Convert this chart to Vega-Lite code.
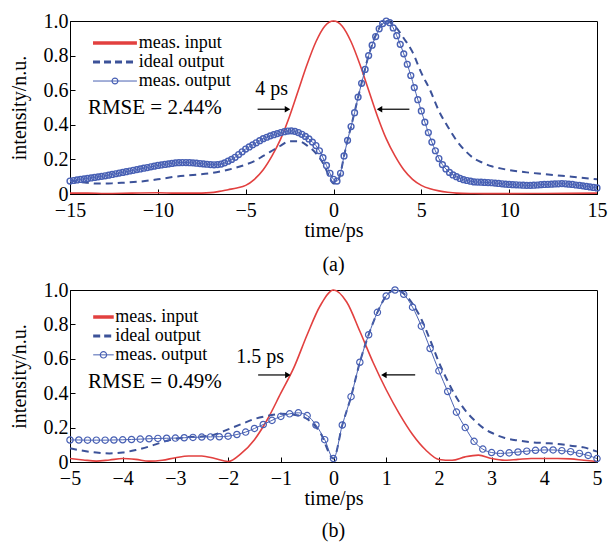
{
  "$schema": "https://vega.github.io/schema/vega-lite/v6.json",
  "padding": {"left": 8, "top": 10, "right": 8, "bottom": 4},
  "spacing": 3,
  "datasets": {
    "one": [{}],
    "a_in": [
      {"t": -15, "v": 0.005}, {"t": -14, "v": 0.005}, {"t": -13, "v": 0.003}, {"t": -12, "v": 0.004}, {"t": -11, "v": 0.006}, {"t": -10, "v": 0.007}, {"t": -9, "v": 0.005}, {"t": -8, "v": 0.005}, {"t": -7, "v": 0.008}, {"t": -6.5, "v": 0.015}, {"t": -6, "v": 0.025}, {"t": -5.5, "v": 0.035}, {"t": -5, "v": 0.05}, {"t": -4.5, "v": 0.085}, {"t": -4, "v": 0.14}, {"t": -3.5, "v": 0.22}, {"t": -3, "v": 0.32}, {"t": -2.5, "v": 0.45}, {"t": -2, "v": 0.6}, {"t": -1.5, "v": 0.75}, {"t": -1, "v": 0.88}, {"t": -0.5, "v": 0.97}, {"t": 0, "v": 1.0}, {"t": 0.5, "v": 0.97}, {"t": 1, "v": 0.88}, {"t": 1.5, "v": 0.75}, {"t": 2, "v": 0.6}, {"t": 2.5, "v": 0.45}, {"t": 3, "v": 0.32}, {"t": 3.5, "v": 0.22}, {"t": 4, "v": 0.14}, {"t": 4.5, "v": 0.085}, {"t": 5, "v": 0.05}, {"t": 5.5, "v": 0.03}, {"t": 6, "v": 0.018}, {"t": 6.5, "v": 0.01}, {"t": 7, "v": 0.005}, {"t": 8, "v": 0.003}, {"t": 9, "v": 0.002}, {"t": 10, "v": 0.002}, {"t": 12, "v": 0.003}, {"t": 15, "v": 0.005}
    ],
    "a_ideal": [
      {"t": -15, "v": 0.08}, {"t": -14.5, "v": 0.07}, {"t": -14, "v": 0.065}, {"t": -13.5, "v": 0.06}, {"t": -13, "v": 0.06}, {"t": -12.5, "v": 0.062}, {"t": -12, "v": 0.065}, {"t": -11, "v": 0.072}, {"t": -10, "v": 0.085}, {"t": -9, "v": 0.1}, {"t": -8, "v": 0.11}, {"t": -7, "v": 0.12}, {"t": -6, "v": 0.14}, {"t": -5, "v": 0.17}, {"t": -4.5, "v": 0.19}, {"t": -4, "v": 0.22}, {"t": -3.5, "v": 0.25}, {"t": -3, "v": 0.28}, {"t": -2.5, "v": 0.305}, {"t": -2, "v": 0.305}, {"t": -1.5, "v": 0.28}, {"t": -1, "v": 0.235}, {"t": -0.5, "v": 0.16}, {"t": -0.2, "v": 0.09}, {"t": 0, "v": 0.06}, {"t": 0.2, "v": 0.065}, {"t": 0.4, "v": 0.12}, {"t": 0.6, "v": 0.22}, {"t": 0.8, "v": 0.31}, {"t": 1, "v": 0.39}, {"t": 1.5, "v": 0.6}, {"t": 2, "v": 0.8}, {"t": 2.5, "v": 0.94}, {"t": 3, "v": 1.0}, {"t": 3.5, "v": 0.97}, {"t": 4, "v": 0.9}, {"t": 4.5, "v": 0.82}, {"t": 5, "v": 0.7}, {"t": 5.5, "v": 0.6}, {"t": 6, "v": 0.48}, {"t": 6.5, "v": 0.39}, {"t": 7, "v": 0.31}, {"t": 7.5, "v": 0.25}, {"t": 8, "v": 0.205}, {"t": 8.5, "v": 0.18}, {"t": 9, "v": 0.16}, {"t": 9.5, "v": 0.148}, {"t": 10, "v": 0.138}, {"t": 11, "v": 0.125}, {"t": 12, "v": 0.115}, {"t": 13, "v": 0.105}, {"t": 14, "v": 0.095}, {"t": 15, "v": 0.085}
    ],
    "a_out": [
      {"t": -15.0, "v": 0.075}, {"t": -14.8, "v": 0.078}, {"t": -14.6, "v": 0.081}, {"t": -14.4, "v": 0.084}, {"t": -14.2, "v": 0.087}, {"t": -14.0, "v": 0.09}, {"t": -13.8, "v": 0.093}, {"t": -13.6, "v": 0.096}, {"t": -13.4, "v": 0.099}, {"t": -13.2, "v": 0.102}, {"t": -13.0, "v": 0.105}, {"t": -12.8, "v": 0.109}, {"t": -12.6, "v": 0.113}, {"t": -12.4, "v": 0.117}, {"t": -12.2, "v": 0.121}, {"t": -12.0, "v": 0.125}, {"t": -11.8, "v": 0.129}, {"t": -11.6, "v": 0.133}, {"t": -11.4, "v": 0.137}, {"t": -11.2, "v": 0.141}, {"t": -11.0, "v": 0.145}, {"t": -10.8, "v": 0.149}, {"t": -10.6, "v": 0.153}, {"t": -10.4, "v": 0.157}, {"t": -10.2, "v": 0.161}, {"t": -10.0, "v": 0.165}, {"t": -9.8, "v": 0.168}, {"t": -9.6, "v": 0.171}, {"t": -9.4, "v": 0.174}, {"t": -9.2, "v": 0.177}, {"t": -9.0, "v": 0.18}, {"t": -8.8, "v": 0.181}, {"t": -8.6, "v": 0.182}, {"t": -8.4, "v": 0.182}, {"t": -8.2, "v": 0.181}, {"t": -8.0, "v": 0.18}, {"t": -7.8, "v": 0.178}, {"t": -7.6, "v": 0.176}, {"t": -7.4, "v": 0.174}, {"t": -7.2, "v": 0.172}, {"t": -7.0, "v": 0.17}, {"t": -6.8, "v": 0.169}, {"t": -6.6, "v": 0.17}, {"t": -6.4, "v": 0.173}, {"t": -6.2, "v": 0.18}, {"t": -6.0, "v": 0.19}, {"t": -5.8, "v": 0.2}, {"t": -5.6, "v": 0.212}, {"t": -5.4, "v": 0.228}, {"t": -5.2, "v": 0.244}, {"t": -5.0, "v": 0.26}, {"t": -4.8, "v": 0.272}, {"t": -4.6, "v": 0.284}, {"t": -4.4, "v": 0.296}, {"t": -4.2, "v": 0.308}, {"t": -4.0, "v": 0.32}, {"t": -3.8, "v": 0.328}, {"t": -3.6, "v": 0.336}, {"t": -3.4, "v": 0.343}, {"t": -3.2, "v": 0.349}, {"t": -3.0, "v": 0.355}, {"t": -2.8, "v": 0.36}, {"t": -2.6, "v": 0.364}, {"t": -2.4, "v": 0.365}, {"t": -2.2, "v": 0.362}, {"t": -2.0, "v": 0.355}, {"t": -1.8, "v": 0.345}, {"t": -1.6, "v": 0.333}, {"t": -1.4, "v": 0.318}, {"t": -1.2, "v": 0.3}, {"t": -1.0, "v": 0.28}, {"t": -0.8, "v": 0.25}, {"t": -0.6, "v": 0.21}, {"t": -0.4, "v": 0.165}, {"t": -0.2, "v": 0.12}, {"t": 0.0, "v": 0.085}, {"t": 0.2, "v": 0.075}, {"t": 0.4, "v": 0.12}, {"t": 0.6, "v": 0.22}, {"t": 0.8, "v": 0.31}, {"t": 1.0, "v": 0.39}, {"t": 1.2, "v": 0.47}, {"t": 1.4, "v": 0.56}, {"t": 1.6, "v": 0.64}, {"t": 1.8, "v": 0.72}, {"t": 2.0, "v": 0.8}, {"t": 2.2, "v": 0.86}, {"t": 2.4, "v": 0.91}, {"t": 2.6, "v": 0.955}, {"t": 2.8, "v": 0.985}, {"t": 3.0, "v": 1.0}, {"t": 3.2, "v": 0.99}, {"t": 3.4, "v": 0.96}, {"t": 3.6, "v": 0.915}, {"t": 3.8, "v": 0.865}, {"t": 4.0, "v": 0.81}, {"t": 4.2, "v": 0.75}, {"t": 4.4, "v": 0.685}, {"t": 4.6, "v": 0.615}, {"t": 4.8, "v": 0.545}, {"t": 5.0, "v": 0.48}, {"t": 5.2, "v": 0.415}, {"t": 5.4, "v": 0.355}, {"t": 5.6, "v": 0.3}, {"t": 5.8, "v": 0.25}, {"t": 6.0, "v": 0.205}, {"t": 6.2, "v": 0.17}, {"t": 6.4, "v": 0.145}, {"t": 6.6, "v": 0.125}, {"t": 6.8, "v": 0.11}, {"t": 7.0, "v": 0.1}, {"t": 7.2, "v": 0.09}, {"t": 7.4, "v": 0.083}, {"t": 7.6, "v": 0.078}, {"t": 7.8, "v": 0.074}, {"t": 8.0, "v": 0.07}, {"t": 8.2, "v": 0.069}, {"t": 8.4, "v": 0.068}, {"t": 8.6, "v": 0.067}, {"t": 8.8, "v": 0.066}, {"t": 9.0, "v": 0.065}, {"t": 9.2, "v": 0.063}, {"t": 9.4, "v": 0.061}, {"t": 9.6, "v": 0.059}, {"t": 9.8, "v": 0.057}, {"t": 10.0, "v": 0.055}, {"t": 10.2, "v": 0.054}, {"t": 10.4, "v": 0.053}, {"t": 10.6, "v": 0.052}, {"t": 10.8, "v": 0.051}, {"t": 11.0, "v": 0.05}, {"t": 11.2, "v": 0.05}, {"t": 11.4, "v": 0.051}, {"t": 11.6, "v": 0.052}, {"t": 11.8, "v": 0.054}, {"t": 12.0, "v": 0.055}, {"t": 12.2, "v": 0.056}, {"t": 12.4, "v": 0.057}, {"t": 12.6, "v": 0.058}, {"t": 12.8, "v": 0.059}, {"t": 13.0, "v": 0.06}, {"t": 13.2, "v": 0.059}, {"t": 13.4, "v": 0.057}, {"t": 13.6, "v": 0.055}, {"t": 13.8, "v": 0.052}, {"t": 14.0, "v": 0.05}, {"t": 14.2, "v": 0.047}, {"t": 14.4, "v": 0.044}, {"t": 14.6, "v": 0.041}, {"t": 14.8, "v": 0.038}, {"t": 15.0, "v": 0.035}
    ],
    "b_in": [
      {"t": -5, "v": 0.02}, {"t": -4.75, "v": 0.012}, {"t": -4.5, "v": 0.005}, {"t": -4.25, "v": 0.012}, {"t": -4, "v": 0.02}, {"t": -3.75, "v": 0.015}, {"t": -3.5, "v": 0.005}, {"t": -3.25, "v": 0.01}, {"t": -3, "v": 0.025}, {"t": -2.75, "v": 0.035}, {"t": -2.5, "v": 0.035}, {"t": -2.25, "v": 0.02}, {"t": -2, "v": 0.003}, {"t": -1.75, "v": 0.05}, {"t": -1.5, "v": 0.13}, {"t": -1.25, "v": 0.25}, {"t": -1, "v": 0.4}, {"t": -0.75, "v": 0.55}, {"t": -0.5, "v": 0.74}, {"t": -0.25, "v": 0.91}, {"t": 0, "v": 1.0}, {"t": 0.25, "v": 0.93}, {"t": 0.5, "v": 0.76}, {"t": 0.75, "v": 0.58}, {"t": 1, "v": 0.42}, {"t": 1.25, "v": 0.28}, {"t": 1.5, "v": 0.16}, {"t": 1.75, "v": 0.07}, {"t": 2, "v": 0.015}, {"t": 2.25, "v": 0.01}, {"t": 2.5, "v": 0.03}, {"t": 2.75, "v": 0.04}, {"t": 3, "v": 0.02}, {"t": 3.25, "v": 0.01}, {"t": 3.5, "v": 0.015}, {"t": 3.75, "v": 0.02}, {"t": 4, "v": 0.02}, {"t": 4.25, "v": 0.02}, {"t": 4.5, "v": 0.018}, {"t": 4.75, "v": 0.01}, {"t": 5, "v": 0.003}
    ],
    "b_ideal": [
      {"t": -5, "v": 0.08}, {"t": -4.75, "v": 0.065}, {"t": -4.5, "v": 0.055}, {"t": -4.25, "v": 0.05}, {"t": -4, "v": 0.055}, {"t": -3.75, "v": 0.07}, {"t": -3.5, "v": 0.09}, {"t": -3.25, "v": 0.115}, {"t": -3, "v": 0.135}, {"t": -2.75, "v": 0.145}, {"t": -2.5, "v": 0.148}, {"t": -2.25, "v": 0.16}, {"t": -2, "v": 0.19}, {"t": -1.75, "v": 0.22}, {"t": -1.5, "v": 0.25}, {"t": -1.25, "v": 0.268}, {"t": -1, "v": 0.28}, {"t": -0.75, "v": 0.275}, {"t": -0.5, "v": 0.25}, {"t": -0.25, "v": 0.17}, {"t": 0, "v": 0.02}, {"t": 0.167, "v": 0.215}, {"t": 0.333, "v": 0.38}, {"t": 0.5, "v": 0.58}, {"t": 0.667, "v": 0.74}, {"t": 0.833, "v": 0.87}, {"t": 1, "v": 0.965}, {"t": 1.167, "v": 1.0}, {"t": 1.333, "v": 0.98}, {"t": 1.5, "v": 0.92}, {"t": 1.667, "v": 0.83}, {"t": 1.833, "v": 0.71}, {"t": 2, "v": 0.58}, {"t": 2.167, "v": 0.47}, {"t": 2.333, "v": 0.375}, {"t": 2.5, "v": 0.3}, {"t": 2.667, "v": 0.245}, {"t": 2.833, "v": 0.2}, {"t": 3, "v": 0.17}, {"t": 3.25, "v": 0.14}, {"t": 3.5, "v": 0.125}, {"t": 3.75, "v": 0.115}, {"t": 4, "v": 0.11}, {"t": 4.25, "v": 0.105}, {"t": 4.5, "v": 0.095}, {"t": 4.75, "v": 0.085}, {"t": 5, "v": 0.06}
    ],
    "b_out": [
      {"t": -5, "v": 0.128}, {"t": -4.833, "v": 0.128}, {"t": -4.667, "v": 0.127}, {"t": -4.5, "v": 0.127}, {"t": -4.333, "v": 0.127}, {"t": -4.167, "v": 0.128}, {"t": -4, "v": 0.129}, {"t": -3.833, "v": 0.131}, {"t": -3.667, "v": 0.133}, {"t": -3.5, "v": 0.135}, {"t": -3.333, "v": 0.137}, {"t": -3.167, "v": 0.138}, {"t": -3, "v": 0.139}, {"t": -2.833, "v": 0.141}, {"t": -2.667, "v": 0.143}, {"t": -2.5, "v": 0.145}, {"t": -2.333, "v": 0.146}, {"t": -2.167, "v": 0.147}, {"t": -2, "v": 0.15}, {"t": -1.833, "v": 0.16}, {"t": -1.667, "v": 0.174}, {"t": -1.5, "v": 0.195}, {"t": -1.333, "v": 0.218}, {"t": -1.167, "v": 0.242}, {"t": -1, "v": 0.265}, {"t": -0.833, "v": 0.28}, {"t": -0.667, "v": 0.286}, {"t": -0.5, "v": 0.27}, {"t": -0.333, "v": 0.215}, {"t": -0.167, "v": 0.13}, {"t": 0, "v": 0.02}, {"t": 0.167, "v": 0.215}, {"t": 0.333, "v": 0.38}, {"t": 0.5, "v": 0.58}, {"t": 0.667, "v": 0.74}, {"t": 0.833, "v": 0.87}, {"t": 1, "v": 0.965}, {"t": 1.167, "v": 1.0}, {"t": 1.333, "v": 0.975}, {"t": 1.5, "v": 0.9}, {"t": 1.667, "v": 0.79}, {"t": 1.833, "v": 0.66}, {"t": 2, "v": 0.53}, {"t": 2.167, "v": 0.41}, {"t": 2.333, "v": 0.29}, {"t": 2.5, "v": 0.2}, {"t": 2.667, "v": 0.12}, {"t": 2.833, "v": 0.075}, {"t": 3, "v": 0.055}, {"t": 3.167, "v": 0.05}, {"t": 3.333, "v": 0.053}, {"t": 3.5, "v": 0.058}, {"t": 3.667, "v": 0.063}, {"t": 3.833, "v": 0.068}, {"t": 4, "v": 0.07}, {"t": 4.167, "v": 0.07}, {"t": 4.333, "v": 0.066}, {"t": 4.5, "v": 0.06}, {"t": 4.667, "v": 0.05}, {"t": 4.833, "v": 0.038}, {"t": 5, "v": 0.02}
    ]
  },
  "vconcat": [
    {
      "width": 527,
      "height": 173,
      "title": {"text": "(a)", "orient": "bottom", "offset": 15},
      "layer": [
        {
          "data": {"name": "a_in"},
          "mark": {"type": "line", "color": "#e2403f", "strokeWidth": 1.6, "interpolate": "monotone"},
          "encoding": {
            "x": {"field": "t", "type": "quantitative", "scale": {"domain": [-15, 15], "nice": false, "zero": false}, "axis": {"title": "time/ps", "values": [-15, -10, -5, 0, 5, 10, 15], "labelFlush": false, "labelOverlap": false}},
            "y": {"field": "v", "type": "quantitative", "scale": {"domain": [0, 1], "nice": false}, "axis": {"title": "intensity/n.u.", "values": [0, 0.2, 0.4, 0.6, 0.8, 1.0], "tickCount": 6, "labelFlush": false, "labelOverlap": false, "labelExpr": "datum.value == 0 ? '0' : format(datum.value, '.1f')"}}
          }
        },
        {
          "data": {"name": "a_ideal"},
          "mark": {"type": "line", "color": "#3c5299", "strokeWidth": 2, "strokeDash": [7, 5], "interpolate": "monotone"},
          "encoding": {
            "x": {"field": "t", "type": "quantitative", "scale": {"domain": [-15, 15]}},
            "y": {"field": "v", "type": "quantitative", "scale": {"domain": [0, 1]}}
          }
        },
        {
          "data": {"name": "a_out"},
          "mark": {"type": "line", "color": "#4a62b2", "strokeWidth": 1, "interpolate": "monotone"},
          "encoding": {
            "x": {"field": "t", "type": "quantitative", "scale": {"domain": [-15, 15]}},
            "y": {"field": "v", "type": "quantitative", "scale": {"domain": [0, 1]}}
          }
        },
        {
          "data": {"name": "a_out"},
          "mark": {"type": "point", "filled": false, "color": "#4860b4", "size": 34, "strokeWidth": 1.4, "opacity": 1},
          "encoding": {
            "x": {"field": "t", "type": "quantitative", "scale": {"domain": [-15, 15]}},
            "y": {"field": "v", "type": "quantitative", "scale": {"domain": [0, 1]}}
          }
        },
        {
          "data": {"name": "one"},
          "mark": {"type": "rule", "color": "#e2403f", "strokeWidth": 3.5},
          "encoding": {"x": {"datum": -13.69, "type": "quantitative"}, "x2": {"datum": -11.19}, "y": {"datum": 0.873, "type": "quantitative"}}
        },
        {
          "data": {"name": "one"},
          "mark": {"type": "rule", "color": "#3c5299", "strokeWidth": 3, "strokeDash": [7, 4]},
          "encoding": {"x": {"datum": -13.69, "type": "quantitative"}, "x2": {"datum": -11.19}, "y": {"datum": 0.763, "type": "quantitative"}}
        },
        {
          "data": {"name": "one"},
          "mark": {"type": "rule", "color": "#4a62b2", "strokeWidth": 1},
          "encoding": {"x": {"datum": -13.69, "type": "quantitative"}, "x2": {"datum": -11.19}, "y": {"datum": 0.653, "type": "quantitative"}}
        },
        {
          "data": {"name": "one"},
          "mark": {"type": "point", "filled": false, "color": "#4860b4", "size": 34, "strokeWidth": 1.2, "opacity": 1},
          "encoding": {"x": {"datum": -12.44, "type": "quantitative"}, "y": {"datum": 0.653, "type": "quantitative"}}
        },
        {
          "data": {"name": "one"},
          "mark": {"type": "text", "text": ["meas. input", "ideal output", "meas. output"], "align": "left", "baseline": "middle", "lineHeight": 19, "fontSize": 18, "font": "Liberation Serif", "color": "black"},
          "encoding": {"x": {"datum": -11.08, "type": "quantitative"}, "y": {"datum": 0.873, "type": "quantitative"}}
        },
        {
          "data": {"name": "one"},
          "mark": {"type": "text", "text": "RMSE = 2.44%", "align": "left", "baseline": "middle", "fontSize": 21, "font": "Liberation Serif", "color": "black"},
          "encoding": {"x": {"datum": -13.98, "type": "quantitative"}, "y": {"datum": 0.497, "type": "quantitative"}}
        },
        {
          "data": {"name": "one"},
          "mark": {"type": "text", "text": "4 ps", "align": "center", "baseline": "middle", "fontSize": 20, "font": "Liberation Serif", "color": "black"},
          "encoding": {"x": {"datum": -3.52, "type": "quantitative"}, "y": {"datum": 0.607, "type": "quantitative"}}
        },
        {
          "data": {"name": "one"},
          "mark": {"type": "rule", "color": "black", "strokeWidth": 1.2},
          "encoding": {"x": {"datum": -4.32, "type": "quantitative"}, "x2": {"datum": -2.6}, "y": {"datum": 0.49, "type": "quantitative"}}
        },
        {
          "data": {"name": "one"},
          "mark": {"type": "point", "shape": "triangle-right", "filled": true, "color": "black", "size": 40, "xOffset": -4, "opacity": 1},
          "encoding": {"x": {"datum": -2.39, "type": "quantitative"}, "y": {"datum": 0.49, "type": "quantitative"}}
        },
        {
          "data": {"name": "one"},
          "mark": {"type": "rule", "color": "black", "strokeWidth": 1.2},
          "encoding": {"x": {"datum": 4.32, "type": "quantitative"}, "x2": {"datum": 2.6}, "y": {"datum": 0.49, "type": "quantitative"}}
        },
        {
          "data": {"name": "one"},
          "mark": {"type": "point", "shape": "triangle-left", "filled": true, "color": "black", "size": 40, "xOffset": 4, "opacity": 1},
          "encoding": {"x": {"datum": 2.39, "type": "quantitative"}, "y": {"datum": 0.49, "type": "quantitative"}}
        }
      ]
    },
    {
      "width": 527,
      "height": 172,
      "title": {"text": "(b)", "orient": "bottom", "offset": 13},
      "layer": [
        {
          "data": {"name": "b_in"},
          "mark": {"type": "line", "color": "#e2403f", "strokeWidth": 1.6, "interpolate": "monotone"},
          "encoding": {
            "x": {"field": "t", "type": "quantitative", "scale": {"domain": [-5, 5], "nice": false, "zero": false}, "axis": {"title": "time/ps", "values": [-5, -4, -3, -2, -1, 0, 1, 2, 3, 4, 5], "labelFlush": false, "labelOverlap": false}},
            "y": {"field": "v", "type": "quantitative", "scale": {"domain": [0, 1], "nice": false}, "axis": {"title": "intensity/n.u.", "values": [0, 0.2, 0.4, 0.6, 0.8, 1.0], "tickCount": 6, "labelFlush": false, "labelOverlap": false, "labelExpr": "datum.value == 0 ? '0' : format(datum.value, '.1f')"}}
          }
        },
        {
          "data": {"name": "b_ideal"},
          "mark": {"type": "line", "color": "#3c5299", "strokeWidth": 2, "strokeDash": [7, 5], "interpolate": "monotone"},
          "encoding": {
            "x": {"field": "t", "type": "quantitative", "scale": {"domain": [-5, 5]}},
            "y": {"field": "v", "type": "quantitative", "scale": {"domain": [0, 1]}}
          }
        },
        {
          "data": {"name": "b_out"},
          "mark": {"type": "line", "color": "#4a62b2", "strokeWidth": 1, "interpolate": "monotone"},
          "encoding": {
            "x": {"field": "t", "type": "quantitative", "scale": {"domain": [-5, 5]}},
            "y": {"field": "v", "type": "quantitative", "scale": {"domain": [0, 1]}}
          }
        },
        {
          "data": {"name": "b_out"},
          "mark": {"type": "point", "filled": false, "color": "#4860b4", "size": 40, "strokeWidth": 1.2, "opacity": 1},
          "encoding": {
            "x": {"field": "t", "type": "quantitative", "scale": {"domain": [-5, 5]}},
            "y": {"field": "v", "type": "quantitative", "scale": {"domain": [0, 1]}}
          }
        },
        {
          "data": {"name": "one"},
          "mark": {"type": "rule", "color": "#e2403f", "strokeWidth": 3.5},
          "encoding": {"x": {"datum": -4.56, "type": "quantitative"}, "x2": {"datum": -4.17}, "y": {"datum": 0.843, "type": "quantitative"}}
        },
        {
          "data": {"name": "one"},
          "mark": {"type": "rule", "color": "#3c5299", "strokeWidth": 3, "strokeDash": [7, 4]},
          "encoding": {"x": {"datum": -4.56, "type": "quantitative"}, "x2": {"datum": -4.17}, "y": {"datum": 0.733, "type": "quantitative"}}
        },
        {
          "data": {"name": "one"},
          "mark": {"type": "rule", "color": "#4a62b2", "strokeWidth": 1},
          "encoding": {"x": {"datum": -4.56, "type": "quantitative"}, "x2": {"datum": -4.17}, "y": {"datum": 0.623, "type": "quantitative"}}
        },
        {
          "data": {"name": "one"},
          "mark": {"type": "point", "filled": false, "color": "#4860b4", "size": 40, "strokeWidth": 1.2, "opacity": 1},
          "encoding": {"x": {"datum": -4.365, "type": "quantitative"}, "y": {"datum": 0.623, "type": "quantitative"}}
        },
        {
          "data": {"name": "one"},
          "mark": {"type": "text", "text": ["meas. input", "ideal output", "meas. output"], "align": "left", "baseline": "middle", "lineHeight": 19, "fontSize": 18, "font": "Liberation Serif", "color": "black"},
          "encoding": {"x": {"datum": -4.14, "type": "quantitative"}, "y": {"datum": 0.843, "type": "quantitative"}}
        },
        {
          "data": {"name": "one"},
          "mark": {"type": "text", "text": "RMSE = 0.49%", "align": "left", "baseline": "middle", "fontSize": 21, "font": "Liberation Serif", "color": "black"},
          "encoding": {"x": {"datum": -4.66, "type": "quantitative"}, "y": {"datum": 0.465, "type": "quantitative"}}
        },
        {
          "data": {"name": "one"},
          "mark": {"type": "text", "text": "1.5 ps", "align": "center", "baseline": "middle", "fontSize": 20, "font": "Liberation Serif", "color": "black"},
          "encoding": {"x": {"datum": -1.39, "type": "quantitative"}, "y": {"datum": 0.61, "type": "quantitative"}}
        },
        {
          "data": {"name": "one"},
          "mark": {"type": "rule", "color": "black", "strokeWidth": 1.2},
          "encoding": {"x": {"datum": -1.43, "type": "quantitative"}, "x2": {"datum": -0.86}, "y": {"datum": 0.506, "type": "quantitative"}}
        },
        {
          "data": {"name": "one"},
          "mark": {"type": "point", "shape": "triangle-right", "filled": true, "color": "black", "size": 40, "xOffset": -4, "opacity": 1},
          "encoding": {"x": {"datum": -0.79, "type": "quantitative"}, "y": {"datum": 0.506, "type": "quantitative"}}
        },
        {
          "data": {"name": "one"},
          "mark": {"type": "rule", "color": "black", "strokeWidth": 1.2},
          "encoding": {"x": {"datum": 1.55, "type": "quantitative"}, "x2": {"datum": 0.95}, "y": {"datum": 0.506, "type": "quantitative"}}
        },
        {
          "data": {"name": "one"},
          "mark": {"type": "point", "shape": "triangle-left", "filled": true, "color": "black", "size": 40, "xOffset": 4, "opacity": 1},
          "encoding": {"x": {"datum": 0.88, "type": "quantitative"}, "y": {"datum": 0.506, "type": "quantitative"}}
        }
      ]
    }
  ],
  "config": {
    "font": "Liberation Serif",
    "background": "white",
    "view": {"stroke": "black", "strokeWidth": 1},
    "axis": {
      "grid": false,
      "domainColor": "black",
      "tickColor": "black",
      "tickSize": -5,
      "labelFont": "Liberation Serif",
      "labelFontSize": 20,
      "labelColor": "black",
      "titleFont": "Liberation Serif",
      "titleFontSize": 20,
      "titleFontWeight": "normal",
      "titleColor": "black"
    },
    "axisY": {"titlePadding": 14, "labelPadding": 7},
    "axisX": {"titlePadding": 0, "labelPadding": 11},
    "title": {"font": "Liberation Serif", "fontSize": 20, "fontWeight": "normal", "color": "black"}
  }
}
